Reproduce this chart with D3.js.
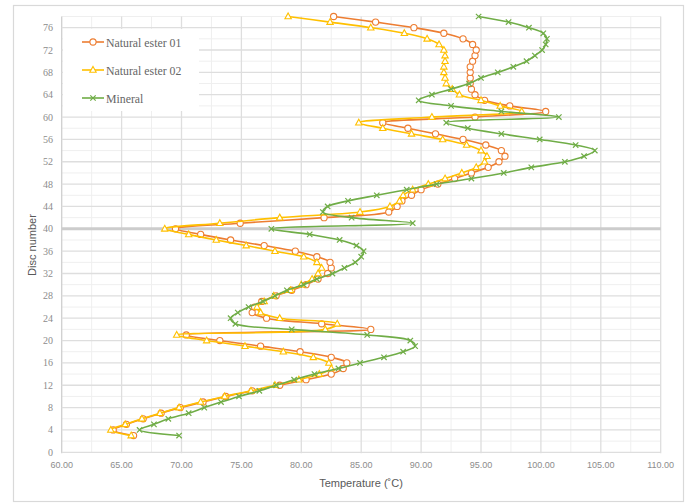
<!DOCTYPE html>
<html>
<head>
<meta charset="utf-8">
<script src="https://cdn.jsdelivr.net/npm/d3@7"></script>
<style>
  html, body { margin: 0; padding: 0; background: #fff; }
  svg { display: block; }
  .tick-x { font: 9px "Liberation Sans", Arial, sans-serif; fill: #8c8c8c; }
  .tick-y { font: 10px "Liberation Serif", "Times New Roman", serif; fill: #8c8c8c; }
  .title { font: 11px "Liberation Sans", Arial, sans-serif; fill: #595959; }
  .legend-text { font: 11.8px "Liberation Serif", "Times New Roman", serif; fill: #666; }
</style>
</head>
<body>
<div id="chart"></div>
<script>
// disc numbers (y) and temperatures (x) per series
var discNumbers = [3, 4, 5, 6, 7, 8, 9, 10, 11, 12, 13, 14, 15, 16, 17, 18, 19, 20, 21, 22, 23, 24, 25, 26, 27, 28, 29, 30,
  31, 32, 33, 34, 35, 36, 37, 38, 39, 40, 41, 42, 43, 44, 45, 46, 47, 48, 49, 50, 51, 52, 53, 54, 55, 56, 57, 58, 59, 60,
  61, 62, 63, 64, 65, 66, 67, 68, 69, 70, 71, 72, 73, 74, 75, 76, 77, 78]

var naturalEster01 = [66.0, 64.3, 65.4, 66.8, 68.3, 69.9, 71.8, 73.7, 75.9, 78.2, 80.4, 82.5, 83.5, 83.8, 82.5, 79.9,
  76.6, 73.2, 70.4, 85.8, 81.7, 77.1, 75.9, 76.1, 76.7, 77.9, 79.2, 80.4, 81.4, 82.2, 82.5, 82.4, 81.3, 79.5, 76.9, 74.1,
  71.6, 69.5, 74.9, 81.9, 87.3, 88.0, 88.4, 89.2, 90.0, 91.4, 92.8, 94.2, 95.6, 96.5, 97.0, 96.7, 95.4, 93.5, 91.2, 88.9,
  86.8, 94.5, 100.4, 97.4, 95.3, 94.5, 94.2, 94.1, 94.1, 94.1, 94.1, 94.3, 94.5, 94.6, 94.3, 93.5, 91.9, 89.4, 86.2, 82.7]

var naturalEster02 = [65.8, 64.1, 65.3, 66.7, 68.2, 69.8, 71.6, 73.6, 75.8, 77.8, 79.8, 81.5, 82.5, 82.3, 81.0, 78.5,
  75.3, 72.1, 69.6, 82.0, 83.0, 78.2, 76.6, 76.3, 76.9, 77.7, 79.1, 80.0, 80.9, 81.4, 81.7, 81.3, 80.2, 77.8, 75.4, 72.9,
  70.6, 68.6, 73.2, 78.2, 84.9, 87.4, 88.2, 88.5, 89.3, 90.6, 92.0, 93.4, 94.6, 95.3, 95.5, 95.0, 93.8, 91.8, 89.2, 86.8,
  84.8, 90.9, 98.4, 96.6, 95.0, 93.2, 92.6, 92.1, 92.0, 91.9, 91.9, 92.0, 92.0, 91.9, 91.5, 90.5, 88.6, 85.8, 82.4, 78.9]

var mineral = [69.8, 66.5, 67.7, 68.9, 70.6, 71.9, 73.3, 74.8, 76.5, 77.9, 79.4, 81.1, 83.1, 84.9, 86.9, 88.5,
  89.5, 89.1, 85.5, 79.2, 74.5, 74.1, 74.7, 75.6, 76.8, 77.8, 78.8, 80.2, 81.3, 82.6, 83.6, 84.5, 85.0, 85.2, 84.6, 83.2,
  80.7, 77.5, 89.3, 84.2, 81.8, 82.2, 83.9, 86.3, 88.8, 91.3, 94.2, 96.9, 99.2, 102.0, 103.6, 104.5, 102.9, 99.9, 96.7, 93.9,
  92.1, 101.5, 96.7, 92.5, 89.8, 90.9, 92.5, 94.0, 95.0, 96.4, 97.7, 98.8, 99.5, 100.1, 100.4, 100.5, 100.2, 99.0, 97.3, 94.8]

var seriesNames = ['Natural ester 01', 'Natural ester 02', 'Mineral']
var seriesColors = ['#ED7D31', '#FFC000', '#70AD47']
var seriesMarkers = ['circle', 'triangle', 'cross']

var xTicks = [60, 65, 70, 75, 80, 85, 90, 95, 100, 105, 110]
var yTicks = [0, 4, 8, 12, 16, 20, 24, 28, 32, 36, 40, 44, 48, 52, 56, 60, 64, 68, 72, 76]

var WIDTH = 697
var HEIGHT = 503

var svg = d3.select('#chart').append('svg')
  .attr('width', WIDTH)
  .attr('height', HEIGHT)

// outer chart frame
svg.append('rect')
  .attr('x', 13.5).attr('y', 5.5)
  .attr('width', 670).attr('height', 496)
  .attr('fill', '#fff')
  .attr('stroke', '#d9d9d9')
  .attr('stroke-width', 1.2)

var x = d3.scaleLinear().domain([60, 110]).range([61.7, 660.7])
var y = d3.scaleLinear().domain([0, 78]).range([452.3, 16.5])

var grid = svg.append('g').attr('class', 'grid')

// minor grid
grid.selectAll('line.minor-x')
  .data(d3.range(62.5, 110, 5))
  .enter().append('line')
  .attr('class', 'minor-x')
  .attr('x1', d => x(d)).attr('x2', d => x(d))
  .attr('y1', y(78)).attr('y2', y(0))
  .attr('stroke', '#efefef').attr('stroke-width', 1)

grid.selectAll('line.minor-y')
  .data(d3.range(2, 79, 4))
  .enter().append('line')
  .attr('class', 'minor-y')
  .attr('x1', x(60)).attr('x2', x(110))
  .attr('y1', d => y(d)).attr('y2', d => y(d))
  .attr('stroke', '#efefef').attr('stroke-width', 1)

// major grid
grid.selectAll('line.major-x')
  .data(xTicks)
  .enter().append('line')
  .attr('class', 'major-x')
  .attr('x1', d => x(d)).attr('x2', d => x(d))
  .attr('y1', y(78)).attr('y2', y(0) + 1)
  .attr('stroke', d => d === 60 ? '#cfcfcf' : '#dedede').attr('stroke-width', 1.3)

grid.selectAll('line.major-y')
  .data(yTicks)
  .enter().append('line')
  .attr('class', 'major-y')
  .attr('x1', x(60)).attr('x2', x(110))
  .attr('y1', d => y(d)).attr('y2', d => y(d))
  .attr('stroke', d => d === 40 ? '#cccccc' : '#dedede')
  .attr('stroke-width', d => d === 40 ? 3 : 1.3)

// tick labels
svg.append('g').selectAll('text')
  .data(xTicks)
  .enter().append('text')
  .attr('class', 'tick-x')
  .attr('x', d => x(d))
  .attr('y', 468)
  .attr('text-anchor', 'middle')
  .text(d3.format('.2f'))

svg.append('g').selectAll('text')
  .data(yTicks)
  .enter().append('text')
  .attr('class', 'tick-y')
  .attr('x', 53)
  .attr('y', d => y(d) + 3.5)
  .attr('text-anchor', 'end')
  .text(d => d)

// axis titles
svg.append('text')
  .attr('class', 'title')
  .attr('x', 361).attr('y', 487)
  .attr('text-anchor', 'middle')
  .text('Temperature (˚C)')

svg.append('text')
  .attr('class', 'title')
  .attr('transform', 'translate(36,245) rotate(-90)')
  .attr('text-anchor', 'middle')
  .text('Disc number')

// series
var allSeries = [naturalEster01, naturalEster02, mineral].map(function (vals, i) {
  return {
    name: seriesNames[i],
    color: seriesColors[i],
    marker: seriesMarkers[i],
    points: vals.map((t, j) => ({ t: t, d: discNumbers[j] }))
  }
})

var line = d3.line()
  .x(p => x(p.t))
  .y(p => y(p.d))
  .curve(d3.curveCatmullRom.alpha(0.5))

function drawMarker (g, type, color) {
  if (type === 'circle') {
    g.append('circle').attr('r', 3.1)
      .attr('fill', '#fff').attr('stroke', color).attr('stroke-width', 1.1)
  } else if (type === 'triangle') {
    g.append('path').attr('d', 'M0,-3.5L3.2,2.3L-3.2,2.3Z')
      .attr('fill', '#fff').attr('stroke', color).attr('stroke-width', 1.1)
  } else {
    g.append('path').attr('d', 'M-2.7,-2.7L2.7,2.7M-2.7,2.7L2.7,-2.7')
      .attr('fill', 'none').attr('stroke', color).attr('stroke-width', 1.2)
  }
}

var series = svg.append('g').attr('class', 'series')
allSeries.forEach(function (s) {
  var g = series.append('g')
  g.append('path')
    .attr('d', line(s.points))
    .attr('fill', 'none')
    .attr('stroke', s.color)
    .attr('stroke-width', 1.6)
  g.selectAll('g.pt')
    .data(s.points)
    .enter().append('g')
    .attr('class', 'pt')
    .attr('transform', p => 'translate(' + x(p.t) + ',' + y(p.d) + ')')
    .each(function () { drawMarker(d3.select(this), s.marker, s.color) })
})

// legend
var legend = svg.append('g').attr('class', 'legend')
legend.append('rect')
  .attr('x', 63).attr('y', 29)
  .attr('width', 136).attr('height', 82)
  .attr('fill', '#fff')

allSeries.forEach(function (s, i) {
  var ly = 42 + i * 28
  legend.append('line')
    .attr('x1', 82).attr('x2', 104)
    .attr('y1', ly).attr('y2', ly)
    .attr('stroke', s.color).attr('stroke-width', 1.6)
  var m = legend.append('g').attr('transform', 'translate(93,' + ly + ')')
  drawMarker(m, s.marker, s.color)
  legend.append('text')
    .attr('class', 'legend-text')
    .attr('x', 106).attr('y', ly + 4.5)
    .text(s.name)
})
</script>
</body>
</html>
